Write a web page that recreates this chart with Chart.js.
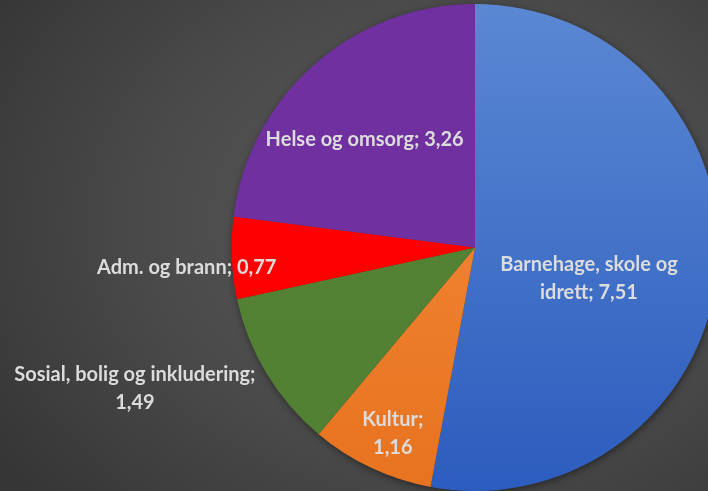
<!DOCTYPE html>
<html>
<head>
<meta charset="utf-8">
<script src="https://cdn.jsdelivr.net/npm/chart.js@4.4.1/dist/chart.umd.min.js"></script>
<style>
  html, body { margin:0; padding:0; width:708px; height:491px; overflow:hidden; }
  body { background: radial-gradient(ellipse 75% 85% at 62% 45%, #5c5c5c 0%, #4a4a4a 55%, #363636 100%); position:relative; }
  #wrap { position:absolute; left:0; top:0; width:950px; height:491px; }
</style>
</head>
<body>
<div id="wrap"><canvas id="pieChart" width="950" height="491"></canvas></div>
<script>
// data
const kategorier = ['Barnehage, skole og idrett', 'Kultur', 'Sosial, bolig og inkludering', 'Adm. og brann', 'Helse og omsorg'];
const verdier    = [7.51, 1.16, 1.49, 0.77, 3.26];

// farger (topp, bunn) for hver sektor
const fargeTopp = ['#5b88d3', '#f3903f', '#558336', '#ff0000', '#7030a0'];
const fargeBunn = ['#2c5cbe', '#e8721f', '#518033', '#ff0000', '#7030a0'];

// plassering av etiketter: k = andel av radius langs midtvinkel, dx/dy justering, maks bredde for linjeskift
const etikettOppsett = [
  { k:0.47, dx:0,   dy:21,  maxW:195 },
  { k:0.84, dx:5,   dy:1,   maxW:75  },
  { k:1.20, dx:-90, dy:-10, maxW:260 },
  { k:1.00, dx:-45, dy:10,  maxW:400 },
  { k:0.63, dx:-9,  dy:7.5, maxW:400 }
];

function fmt(v){ return v.toFixed(2).replace('.', ','); }

function brytLinjer(ctx, tekst, maxW){
  const ord = tekst.split(' ');
  let linjer = [], cur = '';
  ord.forEach(function(o){
    const test = cur ? cur + ' ' + o : o;
    if (cur && ctx.measureText(test).width > maxW){ linjer.push(cur); cur = o; }
    else cur = test;
  });
  if (cur) linjer.push(cur);
  return linjer;
}

// skygge bak kaka
const skyggePlugin = {
  id: 'skygge',
  beforeDatasetsDraw(chart){
    const arc = chart.getDatasetMeta(0).data[0];
    if (!arc) return;
    const ctx = chart.ctx;
    ctx.save();
    ctx.shadowColor = 'rgba(0,0,0,0.55)';
    ctx.shadowBlur = 8;
    ctx.shadowOffsetX = 1;
    ctx.shadowOffsetY = 2;
    ctx.fillStyle = '#3a3a3a';
    ctx.beginPath();
    ctx.arc(arc.x, arc.y, arc.outerRadius - 1, 0, Math.PI*2);
    ctx.fill();
    ctx.restore();
  }
};

const etikettPlugin = {
  id: 'etiketter',
  afterDatasetsDraw(chart){
    const ctx = chart.ctx;
    const meta = chart.getDatasetMeta(0);
    ctx.save();
    ctx.font = 'bold 20px Lato';
    ctx.fillStyle = '#dcdcdc';
    ctx.textAlign = 'center';
    ctx.textBaseline = 'middle';
    meta.data.forEach(function(arc, i){
      const opp = etikettOppsett[i];
      const mid = (arc.startAngle + arc.endAngle) / 2;
      const cx = arc.x + Math.cos(mid) * arc.outerRadius * opp.k + opp.dx;
      const cy = arc.y + Math.sin(mid) * arc.outerRadius * opp.k + opp.dy;
      const tekst = kategorier[i] + '; ' + fmt(verdier[i]);
      const linjer = brytLinjer(ctx, tekst, opp.maxW);
      const lh = 28;
      const y0 = cy - (linjer.length - 1) * lh / 2;
      linjer.forEach(function(l, j){ ctx.fillText(l, cx, y0 + j*lh); });
    });
    ctx.restore();
  }
};

function sektorFarge(context){
  const chart = context.chart;
  const area = chart.chartArea;
  if (!area) return fargeTopp[context.dataIndex];
  const g = chart.ctx.createLinearGradient(0, area.top, 0, area.bottom);
  g.addColorStop(0, fargeTopp[context.dataIndex]);
  g.addColorStop(1, fargeBunn[context.dataIndex]);
  return g;
}

const pieCtx = document.getElementById('pieChart').getContext('2d');
new Chart(pieCtx, {
  type: 'pie',
  data: {
    labels: kategorier,
    datasets: [{
      data: verdier,
      backgroundColor: sektorFarge,
      borderWidth: 0
    }]
  },
  options: {
    responsive: false,
    animation: false,
    layout: { padding: { top: 4, bottom: 0, left: 0, right: 0 } },
    plugins: {
      legend: { display: false },
      tooltip: { enabled: false }
    }
  },
  plugins: [skyggePlugin, etikettPlugin]
});
</script>
</body>
</html>
